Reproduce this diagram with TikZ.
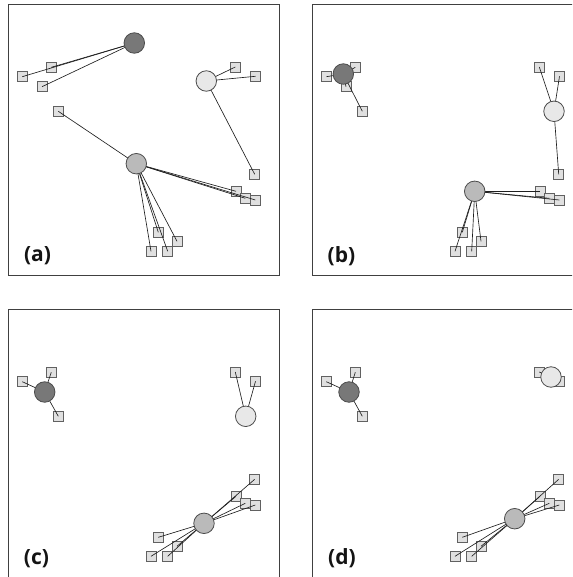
\documentclass[tikz,border=0pt]{standalone}
\usepackage{fontspec}
\setmainfont{Open Sans}
\pgfdeclarelayer{sqlayer}
\pgfdeclarelayer{edgelayer}
\pgfsetlayers{sqlayer,edgelayer,main}
\tikzset{
  sqbox/.style={rectangle, draw=black!62, fill=black!12, line width=0.9pt, minimum size=10pt, inner sep=0pt},
  ctrbase/.style={circle, draw=black!70, line width=0.8pt, minimum size=20.5pt, inner sep=0pt},
  ctrdark/.style={ctrbase, fill=black!53},
  ctrmid/.style={ctrbase, fill=black!27},
  ctrlight/.style={ctrbase, fill=black!9},
  linkline/.style={draw=black!88, line width=0.65pt},
  panelframe/.style={draw=black!75, line width=0.9pt},
  panellab/.style={font=\bfseries\fontsize{21}{21}\selectfont, inner sep=0pt, text=black!92}
}
% #1 prefix, #2 shift, #3 D pos, #4 L pos, #5 M pos, #6 D list, #7 L list, #8 M list
\newcommand\kpanel[8]{%
  \begin{scope}[shift={#2}]
    \draw[panelframe] (8.3,4.3) rectangle (279.3,275.3);
    \begin{pgfonlayer}{sqlayer}
      \foreach \n/\px/\py in {1/22.3/76.7, 2/51.3/67.3, 3/42/86.7, 4/58.3/111.3,
        5/235.3/67, 6/255.5/76.3, 7/254.7/174.3, 8/236/191.3, 9/245.3/198.3,
        10/255.3/200, 11/158.3/232.3, 12/177/241.3, 13/151/251.3, 14/167.7/251.3}
        \node[sqbox] (#1s\n) at (\px,\py) {};
    \end{pgfonlayer}
    \node[ctrdark] (#1D) at #3 {};
    \node[ctrlight] (#1L) at #4 {};
    \node[ctrmid] (#1M) at #5 {};
    \begin{pgfonlayer}{edgelayer}
      \foreach \n in {#6} \draw[linkline] (#1D.center) -- (#1s\n.center);
      \foreach \n in {#7} \draw[linkline] (#1L.center) -- (#1s\n.center);
      \foreach \n in {#8} \draw[linkline] (#1M.center) -- (#1s\n.center);
    \end{pgfonlayer}
  \end{scope}}
\begin{document}
\begin{tikzpicture}[x=1pt,y=-1pt]
  \useasboundingbox (0,0) rectangle (572,577);
  \clip (0,0) rectangle (572,577);
  \kpanel{a}{(0,0)}{(134.3,43)}{(206.3,81)}{(136.3,163.7)}{1,2,3}{5,6,7}{4,8,9,10,11,12,13,14}
  \kpanel{b}{(304,0)}{(39.3,74)}{(250,111.3)}{(170.7,191.3)}{1,2,3,4}{5,6,7}{8,9,10,11,12,13,14}
  \kpanel{c}{(0,305)}{(44.7,87)}{(245.7,111.3)}{(204,218.3)}{1,2,3,4}{5,6}{7,8,9,10,11,12,13,14}
  \kpanel{d}{(304,305)}{(45,87)}{(247,72)}{(210.7,213.7)}{1,2,3,4}{5,6}{7,8,9,10,11,12,13,14}
  \node[panellab] (la) at (37.5,256) {(a)};
  \node[panellab] (lb) at (341.5,256) {(b)};
  \node[panellab] (lc) at (36.5,558.3) {(c)};
  \node[panellab] (ld) at (342,558.3) {(d)};
\end{tikzpicture}
\end{document}
